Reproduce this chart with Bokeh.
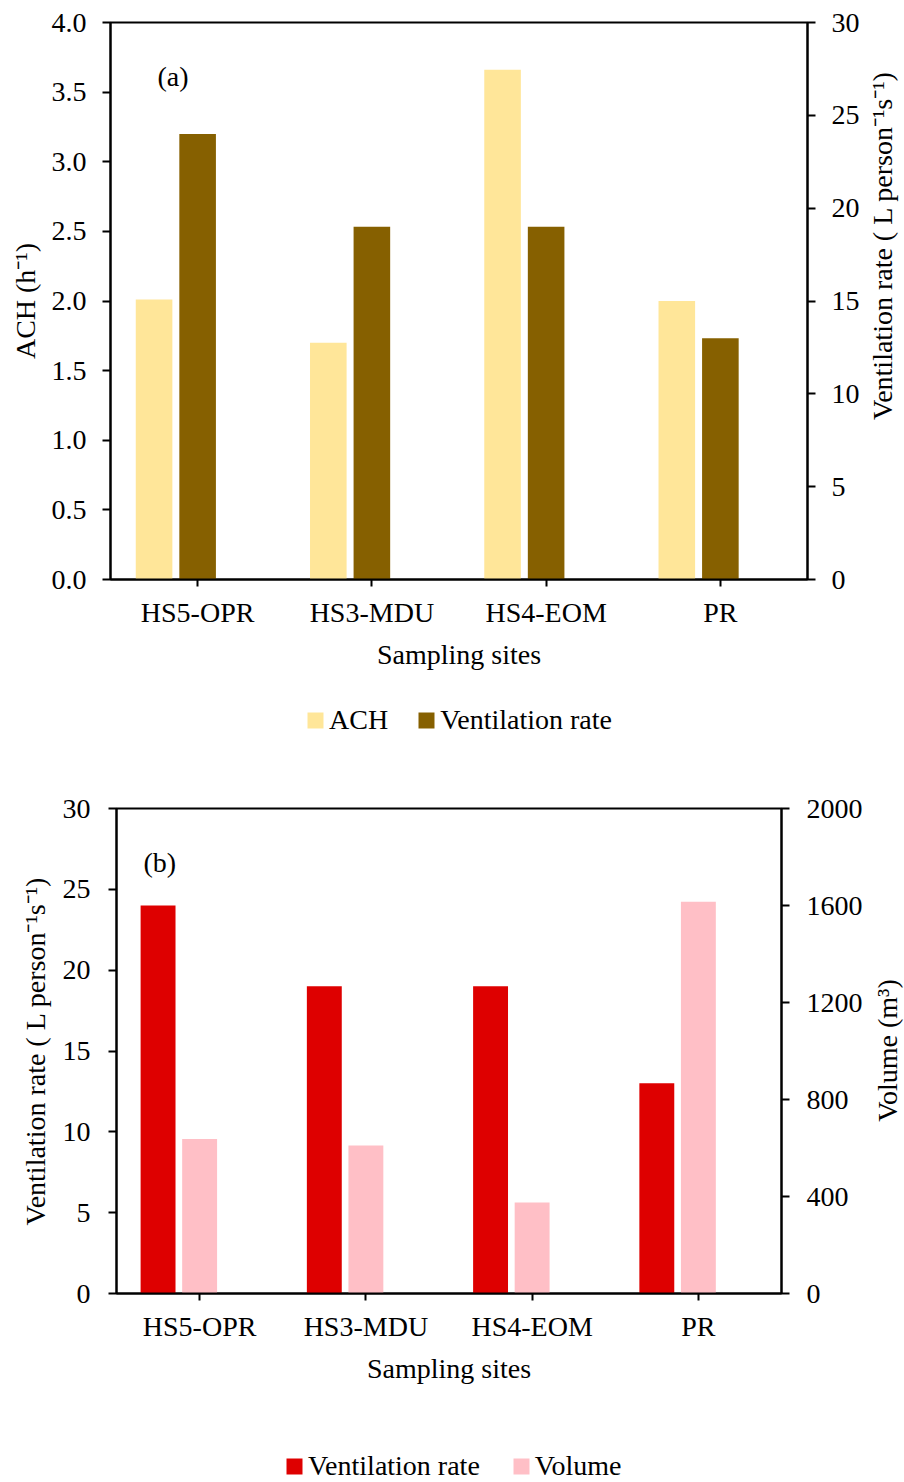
import math
from bokeh.plotting import figure
from bokeh.models import (Range1d, LinearAxis, FactorRange, FixedTicker, NumeralTickFormatter,
                          Legend, LegendItem, Label, ColumnDataSource)
from bokeh.transform import dodge
from bokeh.layouts import column, row
from bokeh.embed import file_html
from bokeh.resources import INLINE

# ---------------- data ----------------
sites = ["HS5-OPR", "HS3-MDU", "HS4-EOM", "PR"]
ach = [2.01, 1.70, 3.66, 2.00]              # h-1
vent_rate = [24, 19, 19, 13]                # L person-1 s-1
volume = [637, 610, 375, 1615]              # m3

ach_ticks = [0, 0.5, 1.0, 1.5, 2.0, 2.5, 3.0, 3.5, 4.0]
vent_ticks = [0, 5, 10, 15, 20, 25, 30]
volume_ticks = [0, 400, 800, 1200, 1600, 2000]

C_ACH = "#FFE699"
C_VENT_A = "#866000"
C_VENT_B = "#DE0000"
C_VOL = "#FFBFC6"

FONT = "Liberation Serif"
FS = "28px"


def style_axis(ax, standoff, label_standoff=8):
    ax.axis_line_width = 2
    ax.axis_line_color = "black"
    ax.major_tick_line_width = 2
    ax.major_tick_line_color = "black"
    ax.major_tick_out = 8
    ax.major_tick_in = 0
    ax.minor_tick_out = 0
    ax.minor_tick_in = 0
    ax.major_label_text_font = FONT
    ax.major_label_text_font_size = FS
    ax.major_label_text_color = "black"
    ax.major_label_standoff = standoff
    ax.axis_label_text_font = FONT
    ax.axis_label_text_font_size = FS
    ax.axis_label_text_font_style = "normal"
    ax.axis_label_text_color = "black"
    ax.axis_label_standoff = label_standoff


def no_align(p):
    try:
        p.frame_align = False
    except Exception:
        pass


def bare_fig(width, height, x_range, y_range):
    f = figure(width=width, height=height, x_range=x_range, y_range=y_range,
               x_axis_type=None, y_axis_type=None, output_backend="svg",
               toolbar_location=None, min_border=0)
    no_align(f)
    f.xgrid.visible = False
    f.ygrid.visible = False
    f.outline_line_color = None
    return f


def base_fig(width, height, lb, rb, tb, bb, y0, y1):
    p = figure(width=width, height=height, x_range=FactorRange(factors=sites),
               y_range=Range1d(y0, y1), output_backend="svg", toolbar_location=None,
               min_border_left=lb, min_border_right=rb, min_border_top=tb,
               min_border_bottom=bb)
    no_align(p)
    p.xgrid.visible = False
    p.ygrid.visible = False
    p.outline_line_color = "black"
    p.outline_line_width = 2
    p.background_fill_color = "white"
    p.border_fill_color = "white"
    return p


def side_title(width, height, text, x, y):
    # vertical title reading bottom-to-top, placed in a narrow strip right of a panel
    t = bare_fig(width, height, Range1d(0, width), Range1d(0, height))
    t.add_layout(Label(x=x, y=y, text=text, angle=math.pi / 2, text_align="center",
                       text_baseline="middle", text_font=FONT, text_font_size=FS,
                       text_color="black"))
    return t


def legend_fig(height, src, fields, labels, colors, x, y, spacing=28):
    # legend strip; its bars use the real data but lie far below the strip's visible range
    lf = bare_fig(904, height, FactorRange(factors=sites), Range1d(1e6, 1e6 + 1))
    items = []
    for fld, lab, col in zip(fields, labels, colors):
        r = lf.vbar(x="site", top=fld, width=0.1, source=src, fill_color=col, line_color=None)
        items.append(LegendItem(label=lab, renderers=[r]))
    lg = Legend(items=items, orientation="horizontal", location=(x, y))
    lg.border_line_color = None
    lg.background_fill_alpha = 0
    lg.padding = 0
    lg.margin = 0
    lg.spacing = spacing
    lg.label_standoff = 4
    lg.glyph_width = 20
    lg.glyph_height = 20
    lg.label_text_font = FONT
    lg.label_text_font_size = FS
    lg.label_text_color = "black"
    lf.add_layout(lg)
    return lf


# ---------------- panel (a) ----------------
pa = base_fig(862, 690, 110, 55, 22, 111, 0, 4)
pa.extra_y_ranges = {"vent": Range1d(0, 30)}
src_a = ColumnDataSource(dict(site=sites, ach=ach, vent=vent_rate))

pa.vbar(x=dodge("site", -0.25, range=pa.x_range), top="ach", width=0.21,
        source=src_a, fill_color=C_ACH, line_color=None)
pa.vbar(x=dodge("site", 0.0, range=pa.x_range), top="vent", width=0.21,
        source=src_a, fill_color=C_VENT_A, line_color=None, y_range_name="vent")

pa.yaxis.ticker = FixedTicker(ticks=ach_ticks)
pa.yaxis.formatter = NumeralTickFormatter(format="0.0")
pa.yaxis.axis_label = "ACH (h\u207b\u00b9)"
style_axis(pa.yaxis[0], 16, 8)

pa.xaxis.axis_label = "Sampling sites"
style_axis(pa.xaxis[0], 10, 8)
pa.xaxis.major_tick_out = 7

ax_ra = LinearAxis(y_range_name="vent", ticker=FixedTicker(ticks=vent_ticks))
style_axis(ax_ra, 16, 8)
pa.add_layout(ax_ra, "right")

pa.add_layout(Label(x=0.27, y=3.61, text="(a)", text_align="left", text_baseline="middle",
                    text_font=FONT, text_font_size=FS, text_color="black"))

ta = side_title(42, 690, "Ventilation rate ( L person\u207b\u00b9s\u207b\u00b9)", 20, 445)

leg_a = legend_fig(60, src_a, ["ach", "vent"], ["ACH", "Ventilation rate"],
                   [C_ACH, C_VENT_A], 305, 14)

# ---------------- panel (b) ----------------
pb = base_fig(866, 690, 116, 85, 58, 147, 0, 30)
pb.extra_y_ranges = {"vol": Range1d(0, 2000)}
src_b = ColumnDataSource(dict(site=sites, vent=vent_rate, vol=volume))

pb.vbar(x=dodge("site", -0.25, range=pb.x_range), top="vent", width=0.21,
        source=src_b, fill_color=C_VENT_B, line_color=None)
pb.vbar(x=dodge("site", 0.0, range=pb.x_range), top="vol", width=0.21,
        source=src_b, fill_color=C_VOL, line_color=None, y_range_name="vol")

pb.yaxis.ticker = FixedTicker(ticks=vent_ticks)
pb.yaxis.axis_label = "Ventilation rate ( L person\u207b\u00b9s\u207b\u00b9)"
style_axis(pb.yaxis[0], 18, 9)

pb.xaxis.axis_label = "Sampling sites"
style_axis(pb.xaxis[0], 10, 8)
pb.xaxis.major_tick_out = 7

ax_rb = LinearAxis(y_range_name="vol", ticker=FixedTicker(ticks=volume_ticks))
style_axis(ax_rb, 17, 10)
pb.add_layout(ax_rb, "right")

pb.add_layout(Label(x=0.162, y=26.67, text="(b)", text_align="left", text_baseline="middle",
                    text_font=FONT, text_font_size=FS, text_color="black"))

tb = side_title(38, 690, "Volume (m\u00b3)", 21, 390)

leg_b = legend_fig(42, src_b, ["vent", "vol"], ["Ventilation rate", "Volume"],
                   [C_VENT_B, C_VOL], 284, 0, spacing=31)

layout = column(row(pa, ta, spacing=0), leg_a, row(pb, tb, spacing=0), leg_b, spacing=0)
open("out.html", "w").write(file_html(layout, INLINE))
